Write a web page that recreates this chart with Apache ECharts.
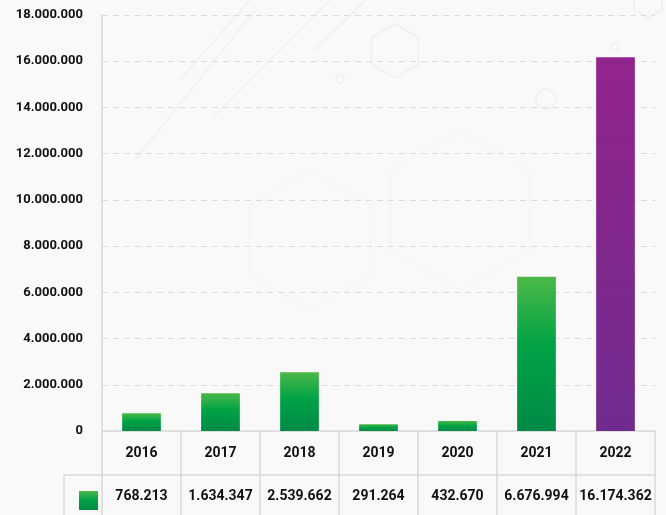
<!DOCTYPE html>
<html>
<head>
<meta charset="utf-8">
<script src="https://cdn.jsdelivr.net/npm/echarts@6/dist/echarts.min.js"></script>
<style>
  html, body { margin: 0; padding: 0; background: #f9f9f9; }
  #chart { width: 666px; height: 515px; }
</style>
</head>
<body>
<div id="chart"></div>
<script>
// Yearly totals
const years = ['2016', '2017', '2018', '2019', '2020', '2021', '2022'];
const totals = [768213, 1634347, 2539662, 291264, 432670, 6676994, 16174362];
const yTicks = { min: 0, max: 18000000, step: 2000000 };

// Thousands separated with dots
const fmt = n => String(n).replace(/\B(?=(\d{3})+(?!\d))/g, '.');

const green = new echarts.graphic.LinearGradient(0, 0, 0, 1, [
  { offset: 0, color: '#4cb848' },
  { offset: 0.45, color: '#00a346' },
  { offset: 1, color: '#008a47' }
]);
const purple = new echarts.graphic.LinearGradient(0, 0, 0, 1, [
  { offset: 0, color: '#93248e' },
  { offset: 1, color: '#702b8e' }
]);

const lineCol = '#d9d9d9';
const textStyle = { fontFamily: 'Roboto', fontWeight: 'bold', color: '#111111' };

// Faint hexagon decoration in the background
function hexPoints(cx, cy, r) {
  const pts = [];
  for (let i = 0; i < 6; i++) {
    const a = Math.PI / 180 * (60 * i - 90);
    pts.push([cx + r * Math.cos(a), cy + r * Math.sin(a)]);
  }
  return pts;
}
const deco = { stroke: '#efefef', fill: 'none', lineWidth: 1.5 };
const faint = { stroke: '#f4f4f4', fill: 'none', lineWidth: 1 };
const graphics = [
  { type: 'polygon', silent: true, z: -1, shape: { points: hexPoints(395, 51, 27) }, style: deco },
  { type: 'polygon', silent: true, z: -1, shape: { points: hexPoints(648, 2, 16) }, style: deco },
  { type: 'polygon', silent: true, z: -1, shape: { points: hexPoints(310, 240, 70) }, style: faint },
  { type: 'polygon', silent: true, z: -1, shape: { points: hexPoints(460, 210, 80) }, style: faint },
  { type: 'circle', silent: true, z: -1, shape: { cx: 546, cy: 99, r: 10 }, style: deco },
  { type: 'circle', silent: true, z: -1, shape: { cx: 340, cy: 79, r: 4 }, style: deco },
  { type: 'circle', silent: true, z: -1, shape: { cx: 615, cy: 47, r: 4 }, style: deco },
  { type: 'line', silent: true, z: -1, shape: { x1: 135, y1: 160, x2: 255, y2: 10 }, style: { stroke: '#f1f1f1', lineWidth: 1.5 } },
  { type: 'line', silent: true, z: -1, shape: { x1: 180, y1: 80, x2: 250, y2: 0 }, style: { stroke: '#f1f1f1', lineWidth: 1.5 } },
  { type: 'line', silent: true, z: -1, shape: { x1: 213, y1: 117, x2: 330, y2: 0 }, style: { stroke: '#f1f1f1', lineWidth: 1.5 } },
  { type: 'line', silent: true, z: -1, shape: { x1: 313, y1: 51, x2: 366, y2: 0 }, style: { stroke: '#f1f1f1', lineWidth: 1.5 } },
  // legend cell borders of the data table
  { type: 'polyline', silent: true, shape: { points: [[64, 520], [64, 475], [102, 475]] }, style: { stroke: lineCol, lineWidth: 1.5, fill: 'none' } }
];

const tableAxis = (data, offset, margin) => ({
  type: 'category',
  position: 'bottom',
  offset: offset,
  data: data,
  axisLine: { show: true, lineStyle: { color: lineCol, width: 1.5 } },
  axisTick: { show: true, interval: 0, length: 44, lineStyle: { color: lineCol, width: 1.5 } },
  axisLabel: Object.assign({ fontSize: 14, margin: margin, interval: 0 }, textStyle)
});

const chart = echarts.init(document.getElementById('chart'));
chart.setOption({
  backgroundColor: '#f9f9f9',
  animation: false,
  grid: { left: 102, right: 11, top: 15, bottom: 84 },
  graphic: graphics,
  legend: {
    left: 74, top: 486,
    itemWidth: 19, itemHeight: 19,
    icon: 'rect',
    formatter: () => '',
    selectedMode: false,
    data: ['Total']
  },
  xAxis: [
    tableAxis(years, 0, 15),
    tableAxis(totals.map(fmt), 44, 14)
  ],
  yAxis: {
    type: 'value',
    min: yTicks.min,
    max: yTicks.max,
    interval: yTicks.step,
    axisLine: { show: true, lineStyle: { color: lineCol, width: 1.5 } },
    axisTick: { show: false },
    splitLine: { lineStyle: { color: '#dcdcdc', type: [6, 5] } },
    axisLabel: Object.assign({ fontSize: 13, margin: 19, formatter: v => fmt(v) }, textStyle)
  },
  series: [{
    name: 'Total',
    type: 'bar',
    barWidth: '49%',
    itemStyle: { color: green },
    data: totals.map((v, i) => i === totals.length - 1
      ? { value: v, itemStyle: { color: purple } }
      : v)
  }]
});
</script>
</body>
</html>
